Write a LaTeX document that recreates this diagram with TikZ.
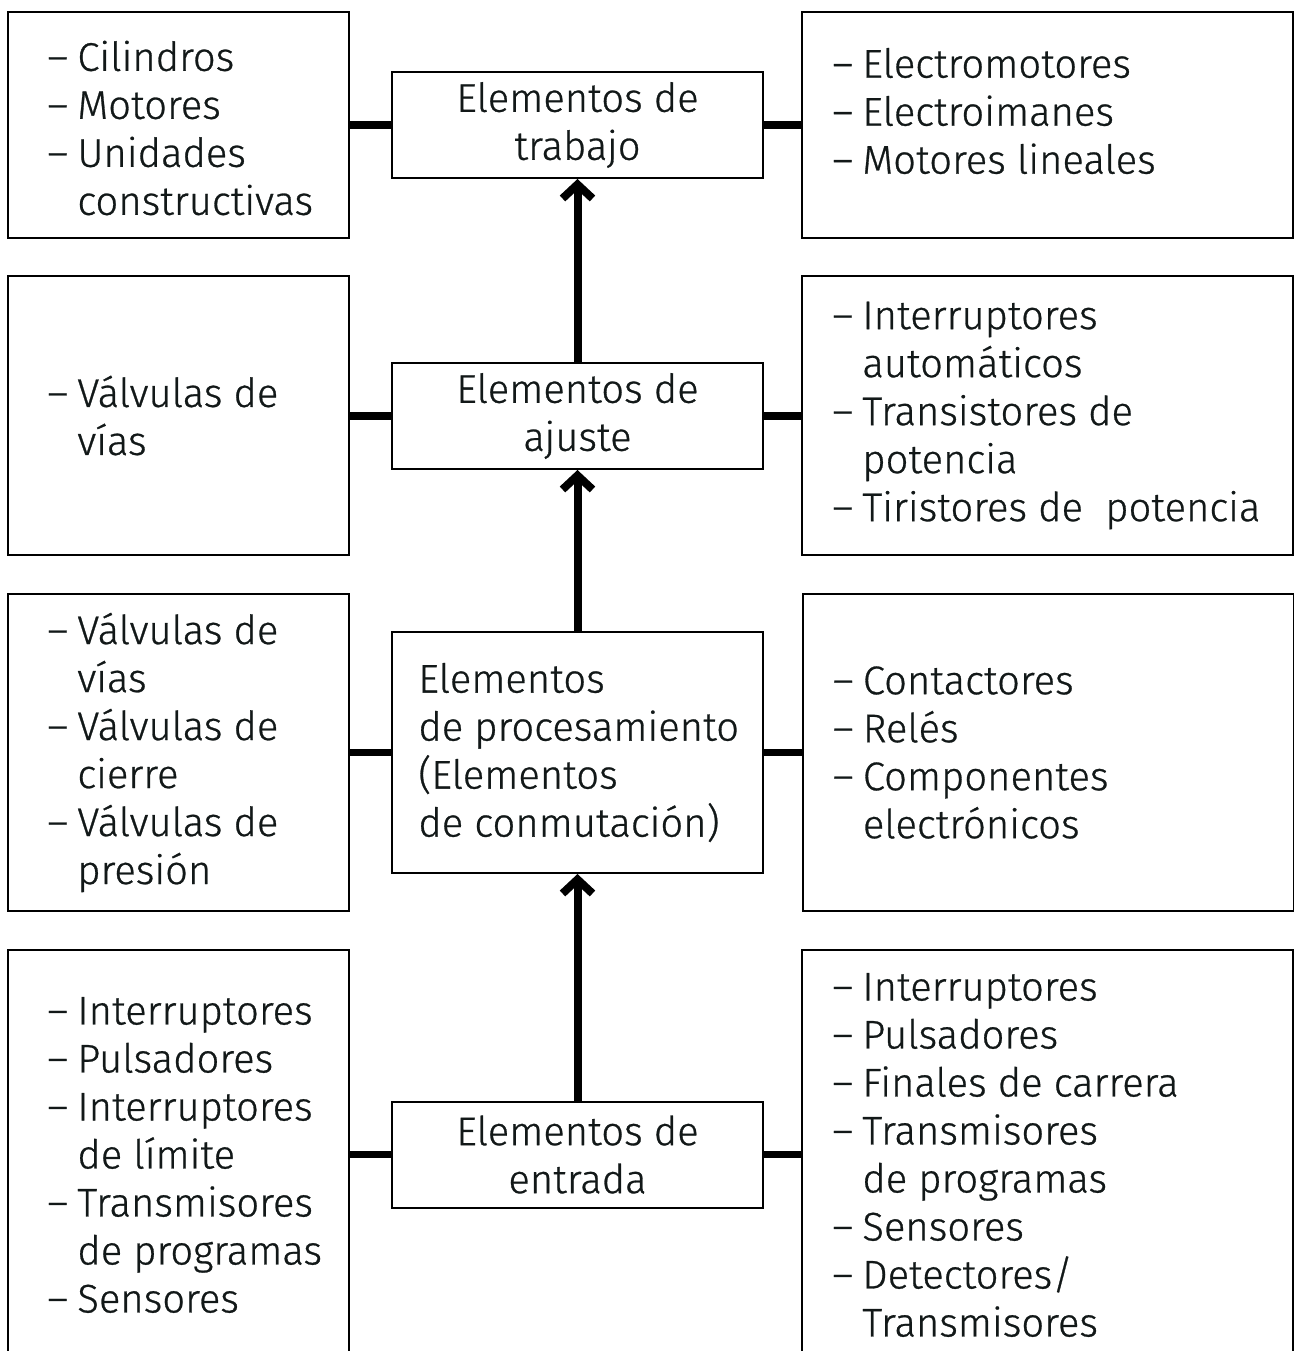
\documentclass[tikz,border=0pt]{standalone}
\usepackage{fontspec}
\setmainfont{Fira Sans}[UprightFont=* Light,UprightFeatures={FakeBold=0.7}]
\usetikzlibrary{arrows.meta}
\definecolor{txt}{RGB}{18,24,24}
\newcommand\itm{\makebox[15pt][l]{–}}
\newcommand\cnt{\hspace*{15pt}}
\begin{document}
\begin{tikzpicture}[x=0.5pt,y=-0.5pt,
  box/.style={draw,line width=1pt,inner sep=0pt},
  sidebox/.style={box},
  lbox/.style={sidebox,minimum width=170.5pt},
  rbox/.style={sidebox,minimum width=245.5pt},
  cbox/.style={box,minimum width=185.5pt,minimum height=53pt,align=center,
    text=txt,font=\fontsize{20}{24}\selectfont},
  listtext/.style={anchor=west,align=left,inner sep=0pt,text=txt,
    font=\fontsize{20}{24}\selectfont},
  conn/.style={line width=3.7pt},
  arr/.style={line width=4pt,-{Straight Barb[length=7pt,width=15pt]}}]
\useasboundingbox (0,0) rectangle (1294,1351);

% row 1
\node[lbox,minimum height=113pt] (L1) at (178.5,125) {};
\node[rbox,minimum height=113pt] (R1) at (1047.5,125) {};
\node[cbox] (C1) at (577.5,125) {Elementos de\\trabajo};
\node[listtext] (L1t) at ([xshift=20pt,yshift=-1.5pt]L1.west) {\itm Cilindros\\\itm Motores\\\itm Unidades\\\cnt constructivas};
\node[listtext] (R1t) at ([xshift=15.5pt,yshift=7pt]R1.west) {\itm Electromotores\\\itm Electroimanes\\\itm Motores lineales};

% row 2
\node[lbox,minimum height=139.5pt] (L2) at (178.5,415.5) {};
\node[rbox,minimum height=139.5pt] (R2) at (1047.5,415.5) {};
\node[cbox] (C2) at (577.5,416) {Elementos de\\ajuste};
\node[listtext] (L2t) at ([xshift=20pt]L2.west) {\itm Válvulas de\\\cnt vías};
\node[listtext] (R2t) at ([xshift=15.5pt]R2.west) {\itm Interruptores\\\cnt automáticos\\\itm Transistores de\\\cnt potencia\\\itm Tiristores de\ \ potencia};

% row 3
\node[lbox,minimum height=158.5pt] (L3) at (178.5,752.5) {};
\node[rbox,minimum height=158.5pt] (R3) at (1048,752.5) {};
\node[box,minimum width=185.5pt,minimum height=120.5pt] (C3) at (577.5,752.5) {};
\node[listtext] (C3t) at ([xshift=13.5pt]C3.west) {Elementos\\de procesamiento\\(Elementos\\de conmutación)};
\node[listtext] (L3t) at ([xshift=20pt]L3.west) {\itm Válvulas de\\\cnt vías\\\itm Válvulas de\\\cnt cierre\\\itm Válvulas de\\\cnt presión};
\node[listtext] (R3t) at ([xshift=15.5pt]R3.west) {\itm Contactores\\\itm Relés\\\itm Componentes\\\cnt electrónicos};

% row 4
\node[lbox,minimum height=205pt] (L4) at (178.5,1155) {};
\node[rbox,minimum height=205pt] (R4) at (1047.5,1155) {};
\node[cbox] (C4) at (577.5,1154.5) {Elementos de\\entrada};
\node[listtext] (L4t) at ([xshift=20pt]L4.west) {\itm Interruptores\\\itm Pulsadores\\\itm Interruptores\\\cnt de límite\\\itm Transmisores\\\cnt de programas\\\itm Sensores};
\node[listtext] (R4t) at ([xshift=15.5pt]R4.west) {\itm Interruptores\\\itm Pulsadores\\\itm Finales de carrera\\\itm Transmisores\\\cnt de programas\\\itm Sensores\\\itm Detectores/\\\cnt Transmisores};

% connectors
\foreach \r in {1,2,3,4}{
  \draw[conn] (C\r.west) -- (C\r.west -| L\r.east);
  \draw[conn] (C\r.east) -- (C\r.east -| R\r.west);
}
\draw[arr] (C4.north) -- (C3.south);
\draw[arr] (C3.north) -- (C2.south);
\draw[arr] (C2.north) -- (C1.south);
\end{tikzpicture}
\end{document}
